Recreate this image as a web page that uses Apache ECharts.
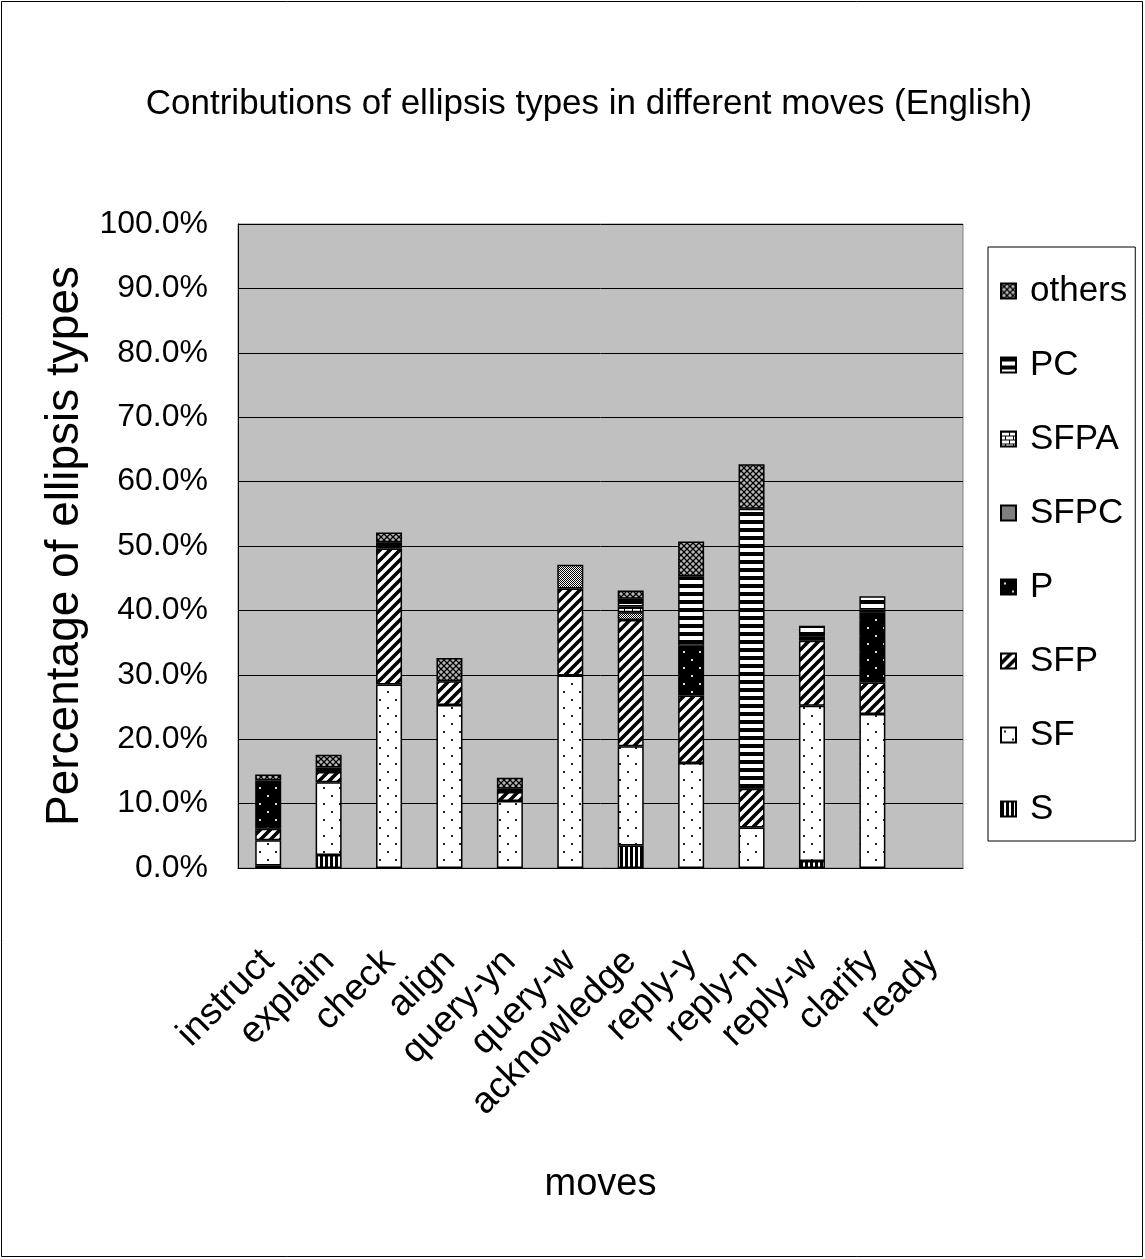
<!DOCTYPE html>
<html>
<head>
<meta charset="utf-8">
<title>Contributions of ellipsis types in different moves (English)</title>
<script src="https://cdn.jsdelivr.net/npm/echarts@6/dist/echarts.min.js"></script>
<style>
  html, body { margin: 0; padding: 0; background: #fff; }
  #chart { width: 1145px; height: 1259px; }
</style>
</head>
<body>
<div id="chart"></div>
<script>
// Dialogue moves (categories)
const moves = ['instruct', 'explain', 'check', 'align', 'query-yn', 'query-w',
  'acknowledge', 'reply-y', 'reply-n', 'reply-w', 'clarify', 'ready'];

// Percentage contributed by each ellipsis type, one value per move
const S      = [0.4, 2.0, 0,    0,    0,    0,    3.5,  0,    0,    1.1,  0,    0];
const SF     = [3.9, 11.3, 28.5, 25.3, 10.4, 29.9, 15.4, 16.3, 6.3,  24.1, 23.9, 0];
const SFP    = [1.8, 1.6, 21.1, 3.7,  1.4,  13.5, 19.6, 10.5, 6.0,  10.1, 4.9,  0];
const P      = [7.5, 0,   1.0,  0,    0.5,  0,    0,    7.7,  0,    0.7,  10.9, 0];
const SFPC   = [0,   0,   0,    0,    0,    3.7,  1.2,  0,    0,    0,    0.4,  0];
const SFPA   = [0,   0,   0,    0,    0,    0,    0.9,  0,    0,    0,    0,    0];
const PC     = [0,   0.7, 0,    0,    0,    0,    1.2,  10.8, 43.5, 1.6,  2.1,  0];
const others = [0.9, 2.0, 1.5,  3.6,  1.7,  0,    1.3,  5.4,  6.9,  0,    0,    0];

// Y axis range and step (percent)
const yMin = 0, yMax = 100, yStep = 10;

const seriesNames = ['S', 'SF', 'SFP', 'P', 'SFPC', 'SFPA', 'PC', 'others'];
const seriesData = [S, SF, SFP, P, SFPC, SFPA, PC, others];

// ---- monochrome fill patterns -------------------------------------------
function tile(w, h, draw) {
  const c = document.createElement('canvas');
  c.width = w; c.height = h;
  draw(c.getContext('2d'), w, h);
  return c;
}
const patterns = {
  // vertical bars
  S: tile(5, 5, (g, w, h) => {
    g.fillStyle = '#fff'; g.fillRect(0, 0, w, h);
    g.fillStyle = '#000'; g.fillRect(0, 0, 3, h);
  }),
  // sparse dots on white
  SF: tile(16, 16, (g, w, h) => {
    g.fillStyle = '#fff'; g.fillRect(0, 0, w, h);
    g.fillStyle = '#222'; g.fillRect(3, 3, 2, 2); g.fillRect(11, 11, 2, 2);
  }),
  // wide forward diagonal hatch
  SFP: tile(10, 10, (g, w, h) => {
    g.fillStyle = '#fff'; g.fillRect(0, 0, w, h);
    g.strokeStyle = '#000'; g.lineWidth = 3.6;
    g.beginPath();
    g.moveTo(-5, 5); g.lineTo(5, -5);
    g.moveTo(-5, 15); g.lineTo(15, -5);
    g.moveTo(5, 15); g.lineTo(15, 5);
    g.stroke();
  }),
  // sparse white dots on black
  P: tile(16, 16, (g, w, h) => {
    g.fillStyle = '#000'; g.fillRect(0, 0, w, h);
    g.fillStyle = '#ddd'; g.fillRect(3, 3, 2, 2); g.fillRect(11, 11, 2, 2);
  }),
  // fine 50% dither
  SFPC: tile(2, 2, (g) => {
    g.fillStyle = '#fff'; g.fillRect(0, 0, 2, 2);
    g.fillStyle = '#000'; g.fillRect(0, 0, 1, 1); g.fillRect(1, 1, 1, 1);
  }),
  // brick
  SFPA: tile(8, 8, (g, w, h) => {
    g.fillStyle = '#fff'; g.fillRect(0, 0, w, h);
    g.fillStyle = '#000';
    g.fillRect(0, 0, 8, 1); g.fillRect(0, 4, 8, 1);
    g.fillRect(0, 0, 1, 4); g.fillRect(4, 4, 1, 4);
  }),
  // horizontal bars
  PC: tile(8, 8, (g, w, h) => {
    g.fillStyle = '#fff'; g.fillRect(0, 0, w, h);
    g.fillStyle = '#000'; g.fillRect(0, 0, w, 4);
  }),
  // diagonal lattice
  others: tile(6, 6, (g, w, h) => {
    g.fillStyle = '#b8b8b8'; g.fillRect(0, 0, w, h);
    g.strokeStyle = '#000'; g.lineWidth = 1.3;
    g.beginPath();
    g.moveTo(0, 0); g.lineTo(6, 6);
    g.moveTo(6, 0); g.lineTo(0, 6);
    g.stroke();
  })
};

const sans = "'Liberation Sans', Arial, sans-serif";

const series = seriesNames.map((name, i) => ({
  name: name,
  type: 'bar',
  stack: 'total',
  barWidth: 26,
  data: seriesData[i].map(v => (v === 0 ? '-' : v)),
  itemStyle: {
    color: { image: patterns[name], repeat: 'repeat' },
    borderColor: '#000',
    borderWidth: 1.5
  },
  emphasis: { disabled: true }
}));

const chart = echarts.init(document.getElementById('chart'), null, { renderer: 'canvas' });
chart.setOption({
  animation: false,
  backgroundColor: '#fff',
  title: {
    text: 'Contributions of ellipsis types in different moves (English)',
    left: 584,
    top: 82,
    textAlign: 'center',
    textStyle: { fontFamily: sans, fontSize: 35, fontWeight: 'normal', color: '#000' }
  },
  legend: {
    orient: 'vertical',
    left: 988,
    top: 247,
    data: seriesNames.slice().reverse(),
    icon: 'rect',
    itemWidth: 15,
    itemHeight: 15,
    itemGap: 34,
    padding: [24, 8, 12, 12],
    borderColor: '#000',
    borderWidth: 1,
    textStyle: { fontFamily: sans, fontSize: 35, lineHeight: 40, color: '#000', padding: [0, 0, 0, 9] }
  },
  grid: {
    left: 238,
    right: 182,
    top: 224,
    bottom: 391,
    show: true,
    backgroundColor: '#c0c0c0',
    borderColor: '#808080',
    borderWidth: 1
  },
  xAxis: {
    type: 'category',
    data: moves,
    name: 'moves',
    nameLocation: 'middle',
    nameGap: 298,
    nameTextStyle: { fontFamily: sans, fontSize: 38, color: '#000' },
    axisLine: { lineStyle: { color: '#000', width: 1 } },
    axisTick: { inside: true, length: 14, lineStyle: { color: '#000' } },
    axisLabel: {
      interval: 0,
      rotate: 45,
      margin: 88,
      fontFamily: sans,
      fontSize: 37,
      color: '#000'
    }
  },
  yAxis: {
    type: 'value',
    min: yMin,
    max: yMax,
    interval: yStep,
    name: 'Percentage of ellipsis types',
    nameLocation: 'middle',
    nameRotate: 90,
    nameGap: 92,
    nameTextStyle: { fontFamily: sans, fontSize: 46, color: '#000' },
    axisLine: { show: true, lineStyle: { color: '#000', width: 1 } },
    axisTick: { show: true, inside: true, length: 12, lineStyle: { color: '#000' } },
    axisLabel: {
      margin: 30,
      fontFamily: sans,
      fontSize: 32,
      color: '#000',
      formatter: v => v.toFixed(1) + '%'
    },
    splitLine: { lineStyle: { color: '#000', width: 1 } }
  },
  graphic: [{
    type: 'rect',
    shape: { x: 1.5, y: 1.5, width: 1141, height: 1255 },
    style: { fill: 'none', stroke: '#000', lineWidth: 1 },
    silent: true
  }],
  series: series
});
</script>
</body>
</html>
